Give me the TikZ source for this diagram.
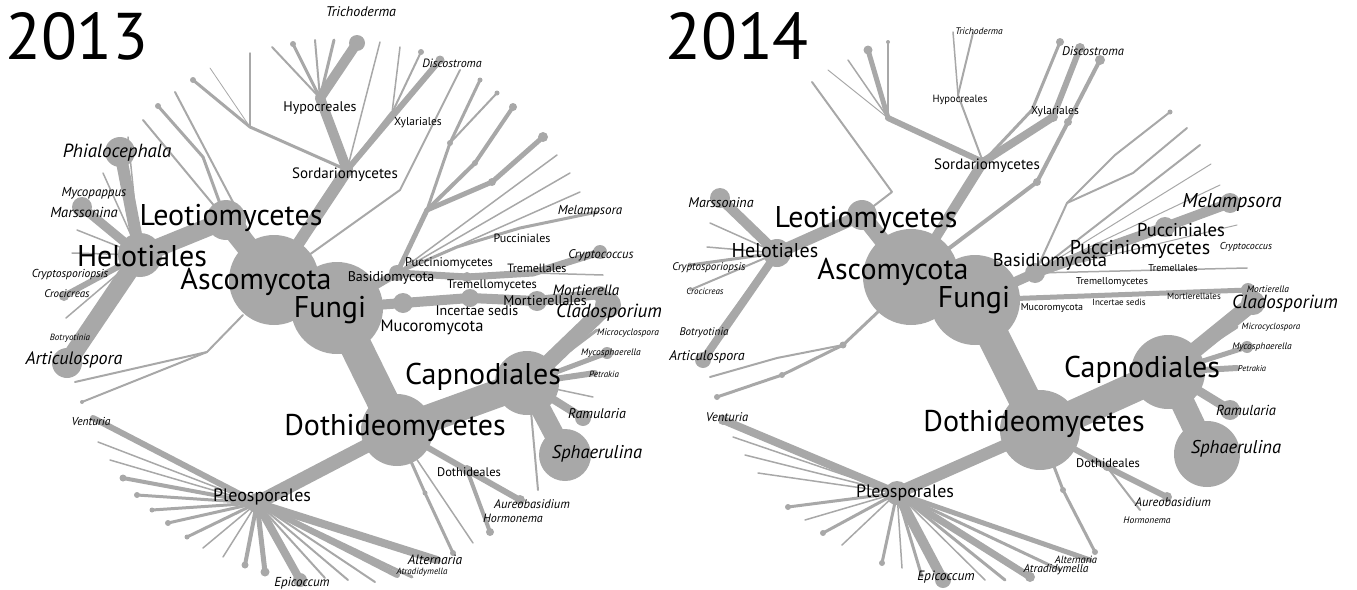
\documentclass[tikz,border=0pt]{standalone}
\usepackage{fontspec}
\setmainfont{PT Sans}
\usepackage{tikz}

\definecolor{treegray}{RGB}{168,168,168}
\newcommand{\fsz}[1]{\fontsize{#1}{#1}\selectfont}
\tikzset{
  br/.style={draw=treegray, line cap=round, line join=round},
  tx/.style={inner sep=0pt, text=black},
}

\begin{document}
\begin{tikzpicture}[x=1pt, y=-1pt]
\useasboundingbox (0,0) rectangle (1357,589);

% ================= 2013 =================
% Define coordinates
\coordinate (aAsco) at (274,280);
\coordinate (aFungi) at (337,308);
\coordinate (aLeo) at (226,220);
\coordinate (aHelo) at (140,255);
\coordinate (aPhia) at (120,152);
\coordinate (aMars) at (82,207);
\coordinate (aArti) at (67,363);
\coordinate (aCroc) at (64,296);
\coordinate (aSord) at (347,170);
\coordinate (aHypo) at (320,98);
\coordinate (aTrich) at (357,43);
\coordinate (aXyl) at (392,113);
\coordinate (aBasi) at (397,273);
\coordinate (aMuc1) at (403,303);
\coordinate (aMuc2) at (470,298);
\coordinate (aMort) at (537,301);
\coordinate (aMortE) at (600,294);
\coordinate (aDoth) at (397,430);
\coordinate (aCapn) at (527,383);
\coordinate (aClad) at (608,305);
\coordinate (aSphae) at (565,455);
\coordinate (aRamu) at (583,418);
\coordinate (aPleo) at (257,503);
\coordinate (aDothl) at (467,470);

% main branches
\draw[br, line width=32pt] (aFungi) -- (aDoth);
\draw[br, line width=28pt] (aDoth) -- (aCapn);
\draw[br, line width=14pt] (aDoth) -- (aPleo);
\draw[br, line width=16pt] (aCapn) -- (aClad);
\draw[br, line width=20pt] (aCapn) -- (aSphae);
\draw[br, line width=8pt] (aCapn) -- (aRamu);
\draw[br, line width=22pt] (aAsco) -- (aLeo);
\draw[br, line width=18pt] (aLeo) -- (aHelo);
\draw[br, line width=12pt] (aHelo) -- (aPhia);
\draw[br, line width=9pt] (aHelo) -- (aMars);
\draw[br, line width=18pt] (aHelo) -- (aArti);
\draw[br, line width=6pt] (aHelo) -- (aCroc);
\draw[br, line width=12pt] (aAsco) -- (aSord);
\draw[br, line width=10pt] (aSord) -- (aHypo);
\draw[br, line width=10pt] (aHypo) -- (aTrich);
\draw[br, line width=4pt] (aSord) -- (aXyl);
\draw[br, line width=8pt] (aFungi) -- (aBasi);
\draw[br, line width=10pt] (aFungi) -- (aMuc1) -- (aMuc2) -- (aMort) -- (aMortE);
\draw[br, line width=6pt] (aDoth) -- (aDothl);

% Helotiales leaves
\foreach \x/\y/\w [count=\i] in {72/253/1.5, 77/230/1.5, 103/173/1.5, 66/318/1.5, 128/137/1.5}
  {\coordinate (aHl\i) at (\x,\y); \draw[br, line width=\w pt] (aHelo) -- (aHl\i);}

% Leotiomycetes leaves
\coordinate (aL1) at (203,157);
\coordinate (aL1e) at (158,106);
\coordinate (aL2e) at (143,120);
\coordinate (aL3e) at (175,92);
\draw[br, line width=3pt] (aLeo) -- (aL1) -- (aL1e);
\draw[br, line width=2pt] (aLeo) -- (aL2e);
\draw[br, line width=2pt] (aAsco) -- (aL3e);
\fill[treegray] (aL1e) circle (3pt);

% Sordariomycetes leaves
\foreach \x/\y/\w/\d [count=\i] in {334/40/3/0, 315/40/2/0, 293/44/3/3, 272/47/2/0}
  {\coordinate (aHy\i) at (\x,\y); \draw[br, line width=\w pt] (aHypo) -- (aHy\i);
   \fill[treegray] (aHy\i) circle (\d pt);}
\coordinate (aSL) at (250,127);
\coordinate (aSL1) at (193,80);
\coordinate (aSL2) at (250,53);
\coordinate (aSL3) at (210,68);
\draw[br, line width=3pt] (aSord) -- (aSL) -- (aSL1);
\draw[br, line width=1.5pt] (aSL) -- (aSL2);
\draw[br, line width=0.8pt] (aSL) -- (aSL3);
\fill[treegray] (aSL1) circle (3pt);
\coordinate (aXy1) at (400,47);
\coordinate (aXy2) at (421,52);
\coordinate (aS1) at (440,60);
\coordinate (aS2) at (380,42);
\draw[br, line width=1.5pt] (aXyl) -- (aXy1);
\draw[br, line width=2pt] (aXyl) -- (aXy2);
\draw[br, line width=6pt] (aSord) -- (aS1);
\draw[br, line width=1.5pt] (aSord) -- (aS2);
\fill[treegray] (aXy2) circle (3pt);
\fill[treegray] (aS1) circle (4.5pt);
\coordinate (aAB) at (400,190);
\coordinate (aABe) at (460,70);
\draw[br, line width=2pt] (aAsco) -- (aAB) -- (aABe);

% Basidiomycota leaves
\coordinate (aB1) at (427,210);
\coordinate (aB2) at (450,143);
\coordinate (aB3) at (475,163);
\coordinate (aB4) at (492,182);
\coordinate (aB2a) at (480,80);
\coordinate (aB2b) at (497,93);
\coordinate (aB3a) at (513,107);
\coordinate (aB4a) at (543,137);
\draw[br, line width=5pt] (aBasi) -- (aB1);
\draw[br, line width=3pt] (aB1) -- (aB2) -- (aB2a);
\draw[br, line width=2pt] (aB2) -- (aB2b);
\draw[br, line width=4pt] (aB1) -- (aB3) -- (aB3a);
\draw[br, line width=5pt] (aB1) -- (aB4) -- (aB4a);
\foreach \p/\r in {aB2/3, aB2a/2.5, aB2b/2.5, aB3/3, aB3a/4, aB4/4, aB4a/5}
  {\fill[treegray] (\p) circle (\r pt);}
\foreach \x/\y [count=\i] in {557/155, 570/173, 580/192}
  {\coordinate (aBt\i) at (\x,\y); \draw[br, line width=1.5pt] (aBasi) -- (aBt\i);}
\coordinate (aPuc) at (457,247);
\coordinate (aPucl) at (520,228);
\coordinate (aMel) at (597,212);
\draw[br, line width=3pt] (aBasi) -- (aPuc) -- (aPucl) -- (aMel);
\coordinate (aTrem) at (467,277);
\coordinate (aTreml) at (533,273);
\coordinate (aCryp) at (600,252);
\coordinate (aTr2) at (603,275);
\draw[br, line width=7pt] (aBasi) -- (aTrem) -- (aTreml) -- (aCryp);
\draw[br, line width=1.5pt] (aTreml) -- (aTr2);
\fill[treegray] (aCryp) circle (7pt);
\fill[treegray] (aTrem) circle (5pt);

% Capnodiales leaves
\foreach \x/\y/\w/\d [count=\i] in {597/330/3/0, 607/353/5/6, 595/373/6/0, 593/397/1.5/0}
  {\coordinate (aCp\i) at (\x,\y); \draw[br, line width=\w pt] (aCapn) -- (aCp\i);
   \fill[treegray] (aCp\i) circle (\d pt);}
\coordinate (aCd) at (530,400);
\coordinate (aCde) at (538,490);
\draw[br, line width=2pt] (aCd) -- (aCde);

% Dothideomycetes leaves
\coordinate (aD1) at (425,493);
\coordinate (aD1e) at (453,553);
\coordinate (aD2e) at (473,543);
\coordinate (aAur) at (520,500);
\coordinate (aHor) at (490,532);
\draw[br, line width=3pt] (aDoth) -- (aD1) -- (aD1e);
\draw[br, line width=1.5pt] (aDoth) -- (aD2e);
\draw[br, line width=6pt] (aDothl) -- (aAur);
\draw[br, line width=4pt] (aDothl) -- (aHor);
\foreach \p/\r in {aD1/2.5, aD1e/3, aAur/5, aHor/4}
  {\fill[treegray] (\p) circle (\r pt);}

% lower left of Ascomycota
\coordinate (aAL0) at (243,315);
\coordinate (aAL) at (207,352);
\coordinate (aAL1) at (75,382);
\coordinate (aAL2) at (82,402);
\draw[br, line width=2pt] (aAL0) -- (aAL) -- (aAL1);
\draw[br, line width=2pt] (aAL) -- (aAL2);
\fill[treegray] (aAL2) circle (2pt);

% Pleosporales fan
\foreach \x/\y/\w/\d [count=\i] in {93/418/6/0, 98/442/1.5/0, 110/460/1.5/0, 123/478/4/3.5,
    137/495/3/3, 152/510/3/2.5, 168/523/3/3, 187/537/3/2.5, 203/548/1.5/0, 223/557/1.5/0,
    245/565/4/3.5, 265/572/5/4.5, 300/580/8/7, 325/578/2/0, 348/580/2/0, 375/582/2/0,
    397/575/6/0, 437/560/8/0, 412/577/3/0}
  {\coordinate (aPl\i) at (\x,\y); \draw[br, line width=\w pt] (aPleo) -- (aPl\i);
   \fill[treegray] (aPl\i) circle (\d pt);}

% blobs
\foreach \c/\r in {aAsco/45, aFungi/46, aLeo/20, aHelo/22, aPhia/15, aMars/10, aArti/15,
    aCroc/5, aTrich/8, aBasi/8, aMuc1/10, aMuc2/9, aMort/10, aMortE/8, aDoth/36, aCapn/32,
    aClad/13, aSphae/26, aRamu/8, aPleo/10, aDothl/5, aSord/6}
  {\fill[treegray] (\c) circle (\r pt);}

% labels
\node[tx, font=\fsz{66}] (aYear) at (77,36) {2013};
\node[tx, font=\fsz{14}\itshape] (aTTrich) at (361,12) {Trichoderma};
\node[tx, font=\fsz{12}\itshape] (aTDisc) at (452,63) {Discostroma};
\node[tx, font=\fsz{14}] (aTHypo) at (320,108) {Hypocreales};
\node[tx, font=\fsz{11.5}] (aTXyl) at (418,123) {Xylariales};
\node[tx, font=\fsz{19}\itshape] (aTPhia) at (117,153) {Phialocephala};
\node[tx, font=\fsz{15}] (aTSord) at (345,175) {Sordariomycetes};
\node[tx, font=\fsz{13}\itshape] (aTMyco) at (94,193) {Mycopappus};
\node[tx, font=\fsz{14.5}\itshape] (aTMars) at (84,212) {Marssonina};
\node[tx, font=\fsz{30}] (aTLeo) at (231,218) {Leotiomycetes};
\node[tx, font=\fsz{13}\itshape] (aTMel) at (590,211) {Melampsora};
\node[tx, font=\fsz{12}] (aTPucl) at (522,238) {Pucciniales};
\node[tx, font=\fsz{30}] (aTHelo) at (142,256) {Helotiales};
\node[tx, font=\fsz{30}] (aTAsco) at (256,282) {Ascomycota};
\node[tx, font=\fsz{12.5}\itshape] (aTCryp) at (601,255) {Cryptococcus};
\node[tx, font=\fsz{12.5}] (aTPuc) at (449,263) {Pucciniomycetes};
\node[tx, font=\fsz{14}] (aTBasi) at (391,278) {Basidiomycota};
\node[tx, font=\fsz{12}] (aTTreml) at (537,268) {Tremellales};
\node[tx, font=\fsz{11.5}\itshape] (aTCrsp) at (70,275) {Cryptosporiopsis};
\node[tx, font=\fsz{12.5}] (aTTrem) at (492,285) {Tremellomycetes};
\node[tx, font=\fsz{15}\itshape] (aTMortE) at (586,290) {Mortierella};
\node[tx, font=\fsz{30}] (aTFungi) at (330,310) {Fungi};
\node[tx, font=\fsz{14}] (aTMort) at (545,301) {Mortierellales};
\node[tx, font=\fsz{11}\itshape] (aTCroc) at (67,294) {Crocicreas};
\node[tx, font=\fsz{14}] (aTInc) at (477,311) {Incertae sedis};
\node[tx, font=\fsz{19}\itshape] (aTClad) at (609,313) {Cladosporium};
\node[tx, font=\fsz{16.5}] (aTMuc) at (432,327) {Mucoromycota};
\node[tx, font=\fsz{9}\itshape] (aTBotr) at (70,338) {Botryotinia};
\node[tx, font=\fsz{9.5}\itshape] (aTMicr) at (628,333) {Microcyclospora};
\node[tx, font=\fsz{18}\itshape] (aTArti) at (74,360) {Articulospora};
\node[tx, font=\fsz{9.5}\itshape] (aTMysp) at (611,353) {Mycosphaerella};
\node[tx, font=\fsz{30}] (aTCapn) at (483,377) {Capnodiales};
\node[tx, font=\fsz{9}\itshape] (aTPetr) at (604,374) {Petrakia};
\node[tx, font=\fsz{14}\itshape] (aTRamu) at (597,414) {Ramularia};
\node[tx, font=\fsz{11.5}\itshape] (aTVent) at (91,421) {Venturia};
\node[tx, font=\fsz{30}] (aTDoth) at (395,428) {Dothideomycetes};
\node[tx, font=\fsz{18.5}\itshape] (aTSphae) at (597,454) {Sphaerulina};
\node[tx, font=\fsz{12.5}] (aTDothl) at (469,472) {Dothideales};
\node[tx, font=\fsz{18}] (aTPleo) at (262,497) {Pleosporales};
\node[tx, font=\fsz{12.5}\itshape] (aTAur) at (532,504) {Aureobasidium};
\node[tx, font=\fsz{12}\itshape] (aTHor) at (513,518) {Hormonema};
\node[tx, font=\fsz{13.5}\itshape] (aTAlt) at (435,560) {Alternaria};
\node[tx, font=\fsz{9}\itshape] (aTAtra) at (422,572) {Atradidymella};
\node[tx, font=\fsz{13}\itshape] (aTEpi) at (302,583) {Epicoccum};

% ================= 2014 =================
\coordinate (bAsco) at (911,277);
\coordinate (bFungi) at (975,300);
\coordinate (bLeo) at (862,215);
\coordinate (bHelo) at (777,253);
\coordinate (bMars) at (720,198);
\coordinate (bArti) at (703,360);
\coordinate (bBotr) at (720,332);
\coordinate (bSord) at (983,162);
\coordinate (bHypo) at (958,95);
\coordinate (bXyl) at (1053,117);
\coordinate (bBasi) at (1035,273);
\coordinate (bPuc) at (1100,250);
\coordinate (bPucl) at (1165,227);
\coordinate (bMel) at (1230,203);
\coordinate (bDoth) at (1040,430);
\coordinate (bCapn) at (1168,372);
\coordinate (bClad) at (1253,303);
\coordinate (bSphae) at (1207,454);
\coordinate (bRamu) at (1230,410);
\coordinate (bPleo) at (897,493);
\coordinate (bDothl) at (1107,467);
\coordinate (bMort) at (1248,290);

% main branches
\draw[br, line width=32pt] (bFungi) -- (bDoth);
\draw[br, line width=30pt] (bDoth) -- (bCapn);
\draw[br, line width=12pt] (bDoth) -- (bPleo);
\draw[br, line width=16pt] (bCapn) -- (bClad);
\draw[br, line width=24pt] (bCapn) -- (bSphae);
\draw[br, line width=9pt] (bCapn) -- (bRamu);
\draw[br, line width=16pt] (bAsco) -- (bLeo);
\draw[br, line width=12pt] (bLeo) -- (bHelo);
\draw[br, line width=10pt] (bHelo) -- (bMars);
\draw[br, line width=8pt] (bHelo) -- (bArti);
\draw[br, line width=6pt] (bHelo) -- (bBotr);
\draw[br, line width=10pt] (bAsco) -- (bSord);
\draw[br, line width=10pt] (bFungi) -- (bBasi);
\draw[br, line width=10pt] (bBasi) -- (bPuc) -- (bPucl) -- (bMel);
\draw[br, line width=5pt] (bFungi) -- (bMort);
\draw[br, line width=6pt] (bDoth) -- (bDothl);

% Helotiales leaves
\foreach \x/\y/\w/\d [count=\i] in {710/223/1.5/0, 707/247/1.5/0, 690/265/3/2.5, 690/290/2/0}
  {\coordinate (bHl\i) at (\x,\y); \draw[br, line width=\w pt] (bHelo) -- (bHl\i);
   \fill[treegray] (bHl\i) circle (\d pt);}

% Leotiomycetes leaf
\coordinate (bL1) at (892,192);
\coordinate (bL1e) at (812,82);
\draw[br, line width=2pt] (bLeo) -- (bL1) -- (bL1e);

% Sordariomycetes leaves
\coordinate (bTr1) at (973,33);
\coordinate (bTr2) at (953,32);
\draw[br, line width=2pt] (bSord) -- (bHypo) -- (bTr1);
\draw[br, line width=1.5pt] (bHypo) -- (bTr2);
\coordinate (bSL) at (888,118);
\draw[br, line width=6pt] (bSord) -- (bSL);
\foreach \x/\y/\w/\d [count=\i] in {868/50/5/4.5, 888/42/2/2, 848/60/1.5/0, 828/70/1/0}
  {\coordinate (bSL\i) at (\x,\y); \draw[br, line width=\w pt] (bSL) -- (bSL\i);
   \fill[treegray] (bSL\i) circle (\d pt);}
\coordinate (bXy1) at (1080,48);
\coordinate (bX2) at (1032,110);
\coordinate (bX2e) at (1060,42);
\draw[br, line width=8pt] (bSord) -- (bXyl);
\draw[br, line width=6pt] (bXyl) -- (bXy1);
\draw[br, line width=3pt] (bSord) -- (bX2) -- (bX2e);
\coordinate (bAX) at (1037,182);
\coordinate (bAX1) at (1068,122);
\coordinate (bAX2) at (1100,60);
\draw[br, line width=4pt] (bAsco) -- (bAX) -- (bAX1) -- (bAX2);
\foreach \p/\r in {bXy1/5, bX2e/4, bAX/4, bAX1/4, bAX2/5, bXyl/5}
  {\fill[treegray] (\p) circle (\r pt);}

% Basidiomycota leaves
\coordinate (bB1) at (1067,203);
\coordinate (bB2) at (1115,155);
\coordinate (bB2e) at (1170,112);
\coordinate (bB3) at (1133,173);
\coordinate (bB3e) at (1187,128);
\draw[br, line width=2pt] (bBasi) -- (bB1) -- (bB2) -- (bB2e);
\draw[br, line width=2pt] (bB1) -- (bB3) -- (bB3e);
\fill[treegray] (bB2e) circle (2.5pt);
\foreach \x/\y/\w [count=\i] in {1200/145/2, 1211/164/1, 1220/185/1, 1237/225/1, 1247/268/1.5}
  {\coordinate (bBt\i) at (\x,\y); \draw[br, line width=\w pt] (bBasi) -- (bBt\i);}

% Capnodiales leaves
\foreach \x/\y/\w/\d [count=\i] in {1237/327/3/0, 1247/347/5/6, 1237/368/6/0}
  {\coordinate (bCp\i) at (\x,\y); \draw[br, line width=\w pt] (bCapn) -- (bCp\i);
   \fill[treegray] (bCp\i) circle (\d pt);}

% Dothideomycetes leaves
\coordinate (bD1) at (1063,490);
\coordinate (bD1e) at (1095,552);
\coordinate (bAur) at (1167,497);
\coordinate (bHor) at (1140,510);
\draw[br, line width=3pt] (bDoth) -- (bD1) -- (bD1e);
\draw[br, line width=6pt] (bDothl) -- (bAur);
\draw[br, line width=2pt] (bDothl) -- (bHor);
\foreach \p/\r in {bD1/3, bD1e/3, bAur/5, bDothl/4}
  {\fill[treegray] (\p) circle (\r pt);}

% lower left of Ascomycota
\coordinate (bAL0) at (880,310);
\coordinate (bAL) at (843,345);
\coordinate (bAL1) at (777,358);
\coordinate (bAL1e) at (710,377);
\coordinate (bAL2) at (782,375);
\coordinate (bAL2e) at (717,397);
\draw[br, line width=3pt] (bAL0) -- (bAL);
\draw[br, line width=2pt] (bAL) -- (bAL1) -- (bAL1e);
\draw[br, line width=3pt] (bAL) -- (bAL2) -- (bAL2e);
\foreach \p/\r in {bAL/3.5, bAL2/3, bAL2e/3}
  {\fill[treegray] (\p) circle (\r pt);}

% Pleosporales fan
\foreach \x/\y/\w/\d [count=\i] in {723/420/8/5, 733/437/1.5/0, 745/455/1.5/0, 758/473/1.5/0,
    788/507/3/3, 805/520/1.5/0, 823/533/3/3, 842/545/1.5/0, 882/563/3/3, 902/568/1.5/0,
    943/580/10/8, 922/577/3/0, 985/580/1.5/0, 1030/577/7/5, 1005/580/3/0, 1060/570/3/0,
    1090/560/5/0}
  {\coordinate (bPl\i) at (\x,\y); \draw[br, line width=\w pt] (bPleo) -- (bPl\i);
   \fill[treegray] (bPl\i) circle (\d pt);}

% blobs
\foreach \c/\r in {bAsco/48, bFungi/45, bLeo/15, bHelo/14, bMars/10, bArti/8, bSord/5,
    bBasi/10, bPuc/8, bPucl/10, bMel/10, bDoth/40, bCapn/37, bClad/12, bSphae/33,
    bRamu/10, bPleo/12, bMort/7}
  {\fill[treegray] (\c) circle (\r pt);}

% labels
\node[tx, font=\fsz{66}] (bYear) at (737,36) {2014};
\node[tx, font=\fsz{9.5}\itshape] (bTTrich) at (979,31) {Trichoderma};
\node[tx, font=\fsz{12.5}\itshape] (bTDisc) at (1093,51) {Discostroma};
\node[tx, font=\fsz{10.5}] (bTHypo) at (960,100) {Hypocreales};
\node[tx, font=\fsz{11.5}] (bTXyl) at (1055,112) {Xylariales};
\node[tx, font=\fsz{15}] (bTSord) at (987,166) {Sordariomycetes};
\node[tx, font=\fsz{14}\itshape] (bTMars) at (721,203) {Marssonina};
\node[tx, font=\fsz{30}] (bTLeo) at (866,220) {Leotiomycetes};
\node[tx, font=\fsz{20}\itshape] (bTMel) at (1232,202) {Melampsora};
\node[tx, font=\fsz{18.5}] (bTPucl) at (1181,230) {Pucciniales};
\node[tx, font=\fsz{20}] (bTHelo) at (775,251) {Helotiales};
\node[tx, font=\fsz{20}] (bTPuc) at (1140,249) {Pucciniomycetes};
\node[tx, font=\fsz{10}\itshape] (bTCryp) at (1246,247) {Cryptococcus};
\node[tx, font=\fsz{18.5}] (bTBasi) at (1050,262) {Basidiomycota};
\node[tx, font=\fsz{30}] (bTAsco) at (893,272) {Ascomycota};
\node[tx, font=\fsz{11}\itshape] (bTCrsp) at (709,268) {Cryptosporiopsis};
\node[tx, font=\fsz{10}] (bTTreml) at (1173,268) {Tremellales};
\node[tx, font=\fsz{10}] (bTTrem) at (1112,282) {Tremellomycetes};
\node[tx, font=\fsz{9}\itshape] (bTCroc) at (705,291) {Crocicreas};
\node[tx, font=\fsz{30}] (bTFungi) at (974,300) {Fungi};
\node[tx, font=\fsz{9.5}\itshape] (bTMortE) at (1268,289) {Mortierella};
\node[tx, font=\fsz{10}] (bTMuc) at (1052,308) {Mucoromycota};
\node[tx, font=\fsz{9}] (bTInc) at (1119,302) {Incertae sedis};
\node[tx, font=\fsz{9}] (bTMort) at (1194,296) {Mortierellales};
\node[tx, font=\fsz{19}\itshape] (bTClad) at (1285,304) {Cladosporium};
\node[tx, font=\fsz{9}\itshape] (bTMicr) at (1271,327) {Microcyclospora};
\node[tx, font=\fsz{11}\itshape] (bTBotr) at (704,333) {Botryotinia};
\node[tx, font=\fsz{14}\itshape] (bTArti) at (707,357) {Articulospora};
\node[tx, font=\fsz{9.5}\itshape] (bTMysp) at (1262,347) {Mycosphaerella};
\node[tx, font=\fsz{30}] (bTCapn) at (1142,370) {Capnodiales};
\node[tx, font=\fsz{8.5}\itshape] (bTPetr) at (1252,369) {Petrakia};
\node[tx, font=\fsz{12.5}\itshape] (bTVent) at (727,417) {Venturia};
\node[tx, font=\fsz{14.5}\itshape] (bTRamu) at (1246,410) {Ramularia};
\node[tx, font=\fsz{30}] (bTDoth) at (1034,424) {Dothideomycetes};
\node[tx, font=\fsz{18.5}\itshape] (bTSphae) at (1236,449) {Sphaerulina};
\node[tx, font=\fsz{12.5}] (bTDothl) at (1108,463) {Dothideales};
\node[tx, font=\fsz{18}] (bTPleo) at (905,493) {Pleosporales};
\node[tx, font=\fsz{12.5}\itshape] (bTAur) at (1173,502) {Aureobasidium};
\node[tx, font=\fsz{9.5}\itshape] (bTHor) at (1147,520) {Hormonema};
\node[tx, font=\fsz{10.5}\itshape] (bTAlt) at (1076,560) {Alternaria};
\node[tx, font=\fsz{11.5}\itshape] (bTAtra) at (1056,570) {Atradidymella};
\node[tx, font=\fsz{13.5}\itshape] (bTEpi) at (946,577) {Epicoccum};

\end{tikzpicture}
\end{document}
